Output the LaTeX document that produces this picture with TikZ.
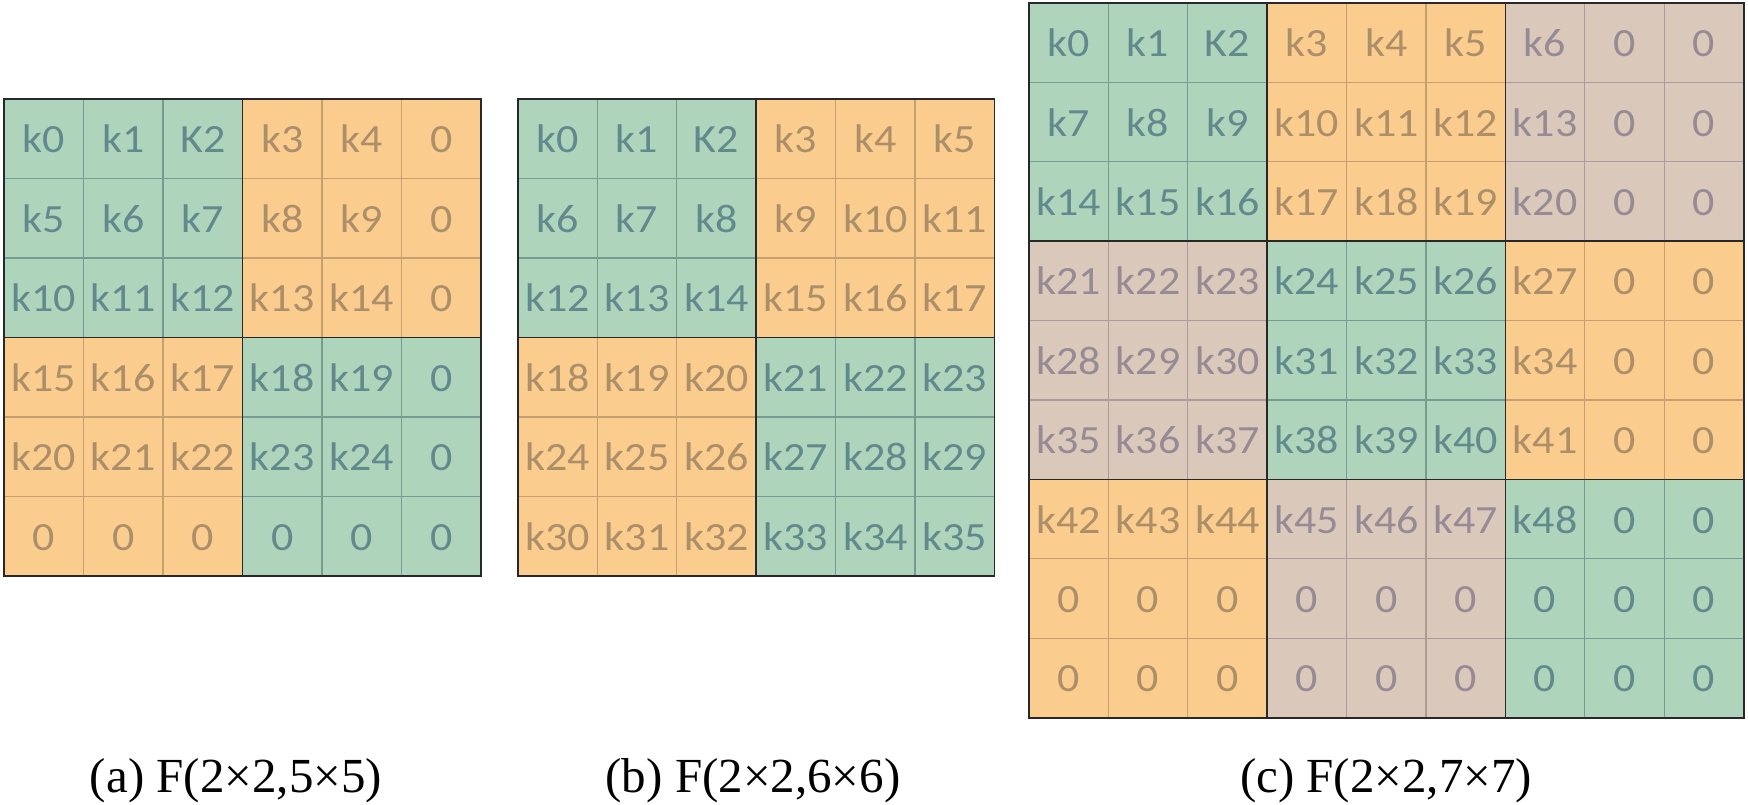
\documentclass[tikz,border=0pt]{standalone}
\usepackage{fontspec}
\usepackage{graphicx}
\setmainfont{Liberation Serif}
\newfontfamily\cellfont{Carlito}
\definecolor{gfill}{RGB}{174,212,188}
\definecolor{ofill}{RGB}{250,204,142}
\definecolor{bfill}{RGB}{218,201,187}
\definecolor{gline}{RGB}{120,155,145}
\definecolor{oline}{RGB}{200,160,112}
\definecolor{bline}{RGB}{172,155,155}
\definecolor{gtext}{RGB}{98,138,140}
\definecolor{otext}{RGB}{172,142,104}
\definecolor{btext}{RGB}{150,138,148}
\definecolor{blockline}{RGB}{40,40,40}
\newcommand{\stretchlab}[1]{\scalebox{1.1}[1]{#1}}
\tikzset{
  cellbox/.style={minimum width=#1, minimum height=#1, inner sep=0pt, line width=0.6pt,
    text height=14pt, text depth=0pt, font=\cellfont\fontsize{20}{20}\selectfont},
  blockbox/.style={draw=blockline, line width=0.9pt},
  caption/.style={anchor=base, inner sep=0pt, font=\fontsize{24.5}{26}\selectfont}
}
\begin{document}
\begin{tikzpicture}[x=0.5pt,y=-0.5pt]
\useasboundingbox (0,0) rectangle (1748,804);
% ---------- grid (a) ----------
\foreach \r in {0,...,5}{\foreach \c in {0,...,5}{
  \pgfmathtruncatemacro\blk{mod(int(\r/3)+int(\c/3),2)}
  \ifnum\blk=0 \def\fc{gfill}\def\lc{gline}\def\tc{gtext}\else\def\fc{ofill}\def\lc{oline}\def\tc{otext}\fi
  \pgfmathtruncatemacro\idx{5*\r+\c}
  \def\lab{0}
  \ifnum\r<5 \ifnum\c<5 \edef\lab{k\idx}\fi\fi
  \ifnum\idx=2 \def\lab{K2}\fi
  \node[cellbox=39.75pt, fill=\fc, draw=\lc, text=\tc] (a-\r-\c) at ({4+79.5*(\c+0.5)},{99+79.5*(\r+0.5)}) {\stretchlab{\lab}};
}}
\foreach \br in {0,1}{\foreach \bc in {0,1}{
  \draw[blockbox] ({4+238.5*\bc},{99+238.5*\br}) rectangle ++(238.5,238.5);
}}
% ---------- grid (b) ----------
\foreach \r in {0,...,5}{\foreach \c in {0,...,5}{
  \pgfmathtruncatemacro\blk{mod(int(\r/3)+int(\c/3),2)}
  \ifnum\blk=0 \def\fc{gfill}\def\lc{gline}\def\tc{gtext}\else\def\fc{ofill}\def\lc{oline}\def\tc{otext}\fi
  \pgfmathtruncatemacro\idx{6*\r+\c}
  \edef\lab{k\idx}
  \ifnum\idx=2 \def\lab{K2}\fi
  \node[cellbox=39.75pt, fill=\fc, draw=\lc, text=\tc] (b-\r-\c) at ({518+79.4*(\c+0.5)},{99+79.5*(\r+0.5)}) {\stretchlab{\lab}};
}}
\foreach \br in {0,1}{\foreach \bc in {0,1}{
  \draw[blockbox] ({518+238.2*\bc},{99+238.5*\br}) rectangle ++(238.2,238.5);
}}
% ---------- grid (c) ----------
\foreach \r in {0,...,8}{\foreach \c in {0,...,8}{
  \pgfmathtruncatemacro\blk{mod(int(\c/3)-int(\r/3)+3,3)}
  \ifcase\blk \def\fc{gfill}\def\lc{gline}\def\tc{gtext}\or\def\fc{ofill}\def\lc{oline}\def\tc{otext}\or\def\fc{bfill}\def\lc{bline}\def\tc{btext}\fi
  \pgfmathtruncatemacro\idx{7*\r+\c}
  \def\lab{0}
  \ifnum\r<7 \ifnum\c<7 \edef\lab{k\idx}\fi\fi
  \ifnum\idx=2 \def\lab{K2}\fi
  \node[cellbox=39.7pt, fill=\fc, draw=\lc, text=\tc] (c-\r-\c) at ({1029+79.4*(\c+0.5)},{3+79.4*(\r+0.5)}) {\stretchlab{\lab}};
}}
\foreach \br in {0,1,2}{\foreach \bc in {0,1,2}{
  \draw[blockbox] ({1029+238.2*\bc},{3+238.2*\br}) rectangle ++(238.2,238.2);
}}
% ---------- captions ----------
\node[caption] (capa) at (236,792) {(a) F(2×2,5×5)};
\node[caption] (capb) at (753,792) {(b) F(2×2,6×6)};
\node[caption] (capc) at (1386,792) {(c) F(2×2,7×7)};
\end{tikzpicture}
\end{document}
